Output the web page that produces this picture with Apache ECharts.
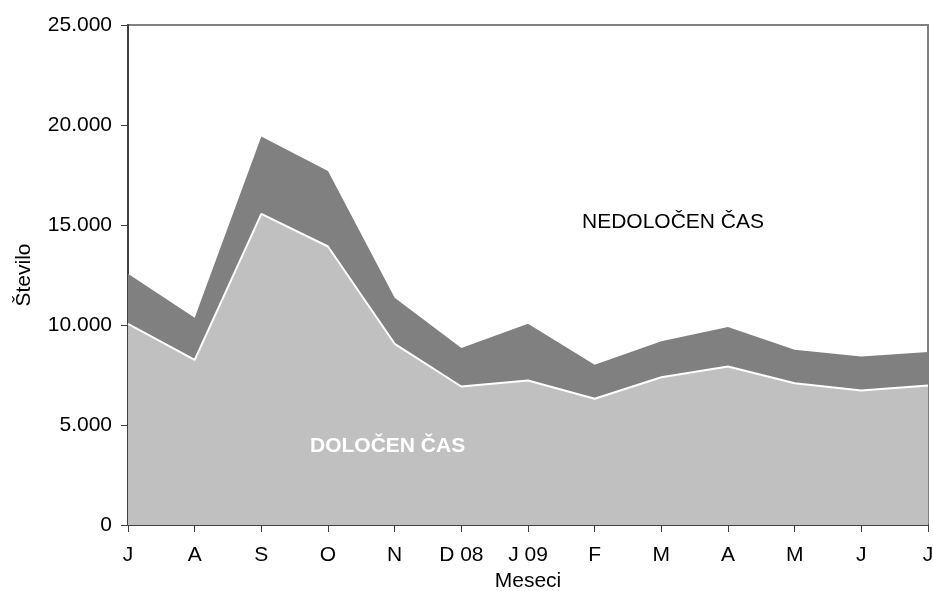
<!DOCTYPE html>
<html>
<head>
<meta charset="utf-8">
<script src="https://cdn.jsdelivr.net/npm/echarts@6/dist/echarts.min.js"></script>
<style>
html,body{margin:0;padding:0;background:#fff;}
#chart{width:933px;height:591px;}
</style>
</head>
<body>
<div id="chart"></div>
<script>
var categories = ['J', 'A', 'S', 'O', 'N', 'D 08', 'J 09', 'F', 'M', 'A', 'M', 'J', 'J'];
var dolocen = [10060, 8260, 15560, 13925, 9060, 6925, 7225, 6310, 7390, 7925, 7090, 6725, 6975];
var nedolocen = [2500, 2100, 3870, 3770, 2300, 1920, 2840, 1700, 1800, 1970, 1670, 1700, 1670];
var seriesNames = ['DOLOČEN ČAS', 'NEDOLOČEN ČAS'];
var yAxisTitle = 'Število';
var xAxisTitle = 'Meseci';

var FONT = '"Liberation Sans", Arial, sans-serif';
var FS = 21;
var chart = echarts.init(document.getElementById('chart'));
chart.setOption({
  animation: false,
  backgroundColor: '#ffffff',
  grid: {
    left: 128, right: 5, top: 25, bottom: 66,
    containLabel: false,
    outerBoundsMode: 'none',
    show: true, borderColor: '#808080', borderWidth: 2, backgroundColor: 'transparent'
  },
  xAxis: {
    type: 'category',
    data: categories,
    boundaryGap: false,
    name: xAxisTitle,
    nameLocation: 'middle',
    nameGap: 45,
    nameTextStyle: { fontFamily: FONT, fontSize: FS, color: '#000' },
    axisLine: { lineStyle: { color: '#404040', width: 2 } },
    axisTick: { show: true, length: 7, lineStyle: { color: '#404040', width: 1 } },
    axisLabel: { fontFamily: FONT, fontSize: FS, color: '#000', margin: 20, interval: 0 },
    splitLine: { show: false }
  },
  yAxis: {
    type: 'value',
    min: 0, max: 25000, interval: 5000,
    name: yAxisTitle,
    nameLocation: 'middle',
    nameGap: 93,
    nameRotate: 90,
    nameTextStyle: { fontFamily: FONT, fontSize: FS, color: '#000' },
    axisLine: { show: true, lineStyle: { color: '#404040', width: 2 } },
    axisTick: { show: true, length: 7, inside: false, lineStyle: { color: '#404040', width: 1 } },
    axisLabel: {
      fontFamily: FONT, fontSize: FS, color: '#000', margin: 16,
      formatter: function (v) {
        return v === 0 ? '0' : String(v).replace(/\B(?=(\d{3})+(?!\d))/g, '.');
      }
    },
    splitLine: { show: false }
  },
  series: [
    {
      name: seriesNames[0],
      type: 'line',
      stack: 'total',
      data: dolocen,
      symbol: 'none',
      lineStyle: { color: '#ffffff', width: 2 },
      areaStyle: { color: '#c0c0c0', opacity: 1 },
      z: 3
    },
    {
      name: seriesNames[1],
      type: 'line',
      stack: 'total',
      data: nedolocen,
      symbol: 'none',
      lineStyle: { width: 0, color: '#808080' },
      areaStyle: { color: '#808080', opacity: 1 },
      z: 2
    }
  ],
  graphic: {
    z: 100,
    elements: [
      {
        type: 'text', left: 582, top: 212, z: 100,
        style: { text: seriesNames[1], font: FS + 'px ' + FONT, fill: '#000' }
      },
      {
        type: 'text', left: 310, top: 436, z: 100,
        style: { text: seriesNames[0], font: 'bold ' + FS + 'px ' + FONT, fill: '#fff' }
      }
    ]
  }
});
</script>
</body>
</html>
